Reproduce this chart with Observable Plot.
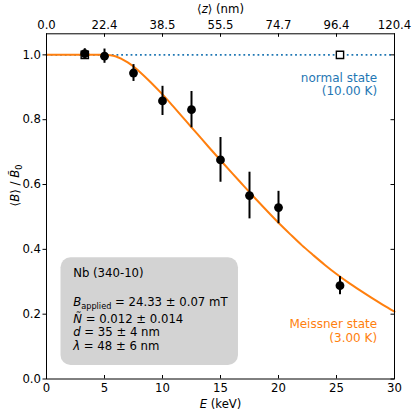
<!DOCTYPE html>
<html>
<head>
<meta charset="utf-8">
<script src="https://cdn.jsdelivr.net/npm/d3@7"></script>
<script src="https://cdn.jsdelivr.net/npm/@observablehq/plot@0.6"></script>
<style>
  html, body { margin: 0; padding: 0; background: #fff; }
  #chart { width: 415px; height: 415px; }
</style>
</head>
<body>
<div id="chart"></div>
<script>
// ---- data ----
const energies   = [3.3, 5.0, 7.5, 10.0, 12.5, 15.0, 17.5, 20.0, 25.3];
const fieldRatio = [1.004, 0.996, 0.944, 0.858, 0.831, 0.676, 0.566, 0.529, 0.288];
const fieldErr   = [0.015, 0.022, 0.026, 0.045, 0.056, 0.069, 0.072, 0.050, 0.028];

const normalEnergies = [3.3, 25.3];
const normalRatio    = [1.0, 1.0];

const fitEnergy = [0, 1, 2, 3, 4, 5, 5.5, 6, 6.5, 7, 7.5, 8, 9, 10, 11, 12, 13, 14, 15, 16, 17, 18, 19, 20, 21, 22, 23, 24, 25, 26, 27, 28, 29, 30];
const fitRatio  = [1, 1, 1, 1, 1, 1.0, 0.999, 0.995, 0.987, 0.977, 0.964, 0.949, 0.915, 0.878, 0.838, 0.797, 0.756, 0.715, 0.675, 0.635, 0.596, 0.557, 0.519, 0.482, 0.447, 0.413, 0.382, 0.352, 0.324, 0.298, 0.274, 0.251, 0.229, 0.208];

const normalLevel = 1.0;

const bottomTicks   = [0, 5, 10, 15, 20, 25, 30];
const topTickLabels = ["0.0", "22.4", "38.5", "55.5", "74.7", "96.4", "120.4"];
const yTicks        = [0, 0.2, 0.4, 0.6, 0.8, 1.0];

const normalLabel   = ["normal state", "(10.00 K)"];
const meissnerLabel = ["Meissner state", "(3.00 K)"];
const infoLines     = ["Nb (340-10)", "*B*_{applied} = 24.33 ± 0.07 mT", "*Ñ* = 0.012 ± 0.014", "*d* = 35 ± 4 nm", "*λ* = 48 ± 6 nm"];

const xLabel   = "*E* (keV)";
const topLabel = "⟨*z*⟩ (nm)";
const yLabel   = "⟨*B*⟩ / *B̃*_{0}";

// ---- layout ----
const W = 415, H = 415;
const mTop = 33.3, mRight = 21, mBottom = 36.5, mLeft = 46;
const xDomain = [0, 30], yDomain = [0, 1.065];
const pxPerX = (W - mLeft - mRight) / (xDomain[1] - xDomain[0]);
const pxPerY = (H - mTop - mBottom) / (yDomain[1] - yDomain[0]);
const tickLenX = 3.5 / pxPerX, tickLenY = 3.5 / pxPerY;

const points = energies.map((e, i) => ({e, v: fieldRatio[i], err: fieldErr[i]}));
const normals = normalEnergies.map((e, i) => ({e, v: normalRatio[i]}));
const fit = fitEnergy.map((e, i) => ({e, v: fitRatio[i]}));

const ORANGE = "#ff7f0e", BLUE = "#1f77b4";
const FS = 11.7;
const infoY = [0.3255, 0.237, 0.1836, 0.144, 0.101];

const chart = Plot.plot({
  width: W, height: H,
  marginTop: mTop, marginRight: mRight, marginBottom: mBottom, marginLeft: mLeft,
  style: {fontFamily: "DejaVu Sans, sans-serif", fontSize: FS + "px", color: "black", background: "white"},
  x: {domain: xDomain, label: null},
  y: {domain: yDomain, label: null},
  marks: [
    // info box
    Plot.rect([0], {x1: 1.25, x2: 16.55, y1: 0.0415, y2: 0.374, fill: "#d3d3d3", rx: 10}),
    Plot.text(infoLines, {x: 2.3, y: (d, i) => infoY[i], text: d => d, textAnchor: "start", fill: "black", fontSize: FS}),
    // normal state line
    Plot.ruleY([normalLevel], {x1: xDomain[0], x2: xDomain[1], stroke: BLUE, strokeWidth: 1.8, strokeDasharray: "1.8,2.9"}),
    // fit curve
    Plot.line(fit, {x: "e", y: "v", stroke: ORANGE, strokeWidth: 2, curve: "catmull-rom"}),
    // normal squares
    Plot.dot(normals, {x: "e", y: "v", symbol: "square", r: 4.1, fill: "white", stroke: "black", strokeWidth: 1.4}),
    // error bars & points
    Plot.ruleX(points, {x: "e", y1: d => d.v - d.err, y2: d => d.v + d.err, stroke: "black", strokeWidth: 2}),
    Plot.dot(points, {x: "e", y: "v", r: 4.4, fill: "black"}),
    // state labels
    Plot.text(normalLabel, {x: 28.5, y: (d, i) => [0.928, 0.887][i], text: d => d, textAnchor: "end", fill: BLUE, fontSize: 12}),
    Plot.text(meissnerLabel, {x: 28.5, y: (d, i) => [0.170, 0.127][i], text: d => d, textAnchor: "end", fill: ORANGE, fontSize: 12}),
    // frame
    Plot.frame({stroke: "black", strokeWidth: 1}),
    // axes
    Plot.axisX(bottomTicks, {anchor: "bottom", tickSize: 0, tickPadding: 5, tickFormat: d => String(d), label: null, fontSize: FS}),
    Plot.axisX(bottomTicks, {anchor: "top", tickSize: 0, tickPadding: 5, tickFormat: (d, i) => topTickLabels[i], label: null, fontSize: FS}),
    Plot.axisY(yTicks, {anchor: "left", tickSize: 3.5, tickPadding: 2, tickFormat: d => d.toFixed(1), label: null, fontSize: FS}),
    // inward ticks
    Plot.ruleX(bottomTicks, {x: d => d, y1: yDomain[0], y2: yDomain[0] + tickLenY, stroke: "black", strokeWidth: 1}),
    Plot.ruleX(bottomTicks, {x: d => d, y1: yDomain[1] - tickLenY, y2: yDomain[1], stroke: "black", strokeWidth: 1}),
    Plot.ruleY(yTicks, {y: d => d, x1: xDomain[1] - tickLenX, x2: xDomain[1], stroke: "black", strokeWidth: 1}),
    // axis titles
    Plot.text([xLabel], {frameAnchor: "bottom", lineAnchor: "middle", dy: 25, text: d => d, fontSize: FS}),
    Plot.text([topLabel], {frameAnchor: "top", lineAnchor: "middle", dy: -25, text: d => d, fontSize: FS}),
    Plot.text([yLabel], {frameAnchor: "left", lineAnchor: "middle", dx: -31, rotate: -90, text: d => d, fontSize: FS})
  ]
});

// rich text: *italic* and _{subscript}
d3.select(chart).selectAll("text").each(function() {
  const s = this.textContent;
  if (!/\*|_\{/.test(s)) return;
  const el = d3.select(this);
  el.text(null);
  const parts = s.split(/(\*[^*]+\*|_\{[^}]+\})/).filter(p => p.length);
  let shifted = false;
  for (const p of parts) {
    const t = el.append("tspan");
    if (p.startsWith("*")) {
      t.text(p.slice(1, -1)).attr("font-style", "italic");
      if (shifted) { t.attr("dy", -3); shifted = false; }
    } else if (p.startsWith("_{")) {
      t.text(p.slice(2, -1)).attr("font-size", "0.7em").attr("dy", 3);
      shifted = true;
    } else {
      t.text(p);
      if (shifted) { t.attr("dy", -3); shifted = false; }
    }
  }
});

document.getElementById("chart").appendChild(chart);
</script>
</body>
</html>
